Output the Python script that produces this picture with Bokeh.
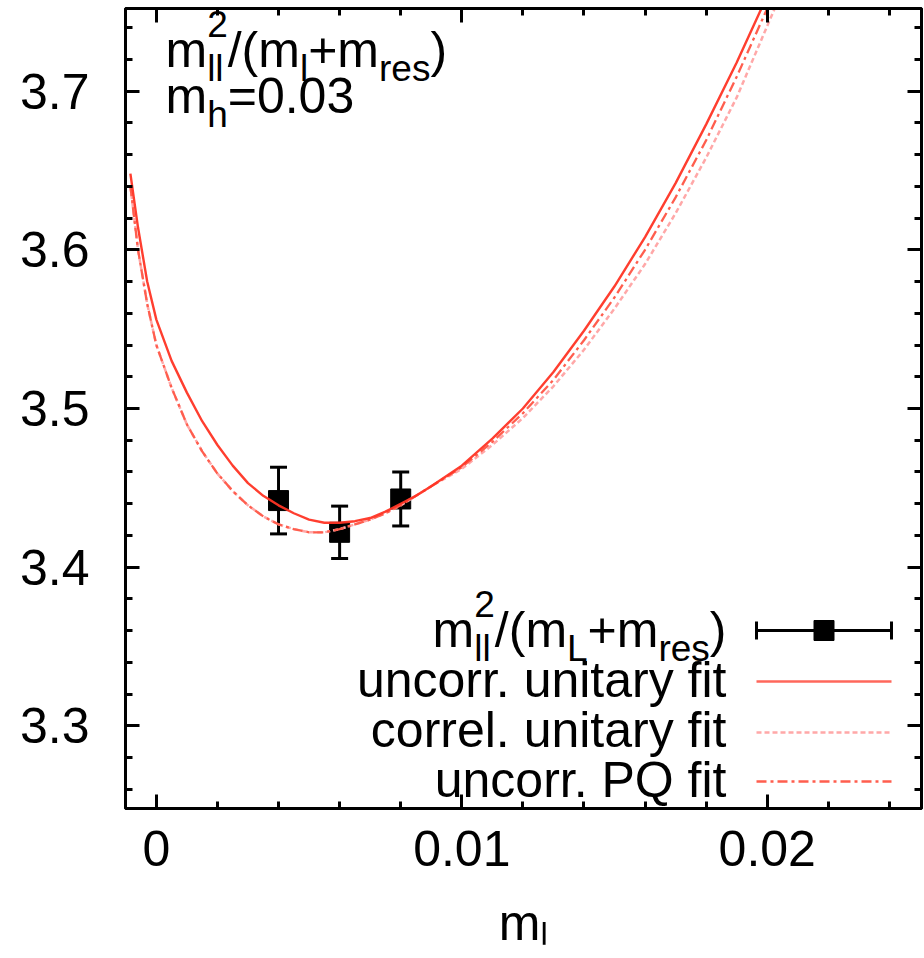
from bokeh.plotting import figure
from bokeh.models import (Range1d, LinearAxis, SingleIntervalTicker, CustomJSTickFormatter,
                          Label, Whisker, ColumnDataSource, TeeHead)
from bokeh.embed import file_html
from bokeh.resources import INLINE

# ---------------- data ----------------
ml_points = [0.004, 0.006, 0.008]
ratio_points = [3.442, 3.422, 3.443]
ratio_errors = [0.021, 0.0165, 0.017]

fit_ml = [-0.00085, -0.0006, -0.0003, 0.0, 0.0005, 0.001, 0.0015, 0.002, 0.0025, 0.003,
          0.0035, 0.004, 0.0045, 0.005, 0.0055, 0.006, 0.0065, 0.007, 0.0075, 0.008,
          0.0085, 0.009, 0.010, 0.011, 0.012, 0.013, 0.014, 0.015, 0.016, 0.017,
          0.018, 0.019, 0.020, 0.021]
fit_uncorr_unitary = [3.648, 3.614, 3.580, 3.556, 3.530, 3.510, 3.492, 3.477, 3.464, 3.453,
                      3.445, 3.439, 3.434, 3.430, 3.428, 3.428, 3.429, 3.431, 3.435, 3.440,
                      3.445, 3.451, 3.464, 3.481, 3.500, 3.523, 3.549, 3.577, 3.608, 3.642,
                      3.679, 3.718, 3.760, 3.805]
fit_correl_unitary = [3.640, 3.600, 3.566, 3.540, 3.513, 3.490, 3.473, 3.459, 3.448, 3.439,
                      3.432, 3.427, 3.424, 3.422, 3.422, 3.424, 3.427, 3.430, 3.434, 3.439,
                      3.445, 3.451, 3.462, 3.477, 3.494, 3.514, 3.537, 3.563, 3.591, 3.623,
                      3.658, 3.696, 3.741, 3.786]
fit_uncorr_pq = [3.640, 3.600, 3.566, 3.540, 3.513, 3.490, 3.473, 3.459, 3.448, 3.439,
                 3.432, 3.427, 3.424, 3.422, 3.422, 3.424, 3.427, 3.430, 3.434, 3.439,
                 3.445, 3.451, 3.463, 3.479, 3.497, 3.518, 3.543, 3.570, 3.600, 3.633,
                 3.669, 3.709, 3.752, 3.797]

legend_texts = ["uncorr. unitary fit", "correl. unitary fit", "uncorr. PQ fit"]
heavy_value = "0.03"
x_axis_title = "m\u2097"

X_RANGE = (-0.00101, 0.02505)
Y_RANGE = (3.248, 3.752)

# ---------------- layout ----------------
W, H = 924, 958
FL, FR, FT, FB = 125, 921, 8, 808
FONT = "Liberation Sans"
FS, SFS = 50, 37
BASE_FIX = 0.35  # empirical baseline correction (fraction of font size)

SOLID_C = "#ff3424"
CORREL_C = "#ffa8a8"
PQ_C = "#ff5e4e"

p = figure(width=W, height=H, x_range=Range1d(*X_RANGE), y_range=Range1d(*Y_RANGE),
           output_backend="svg", toolbar_location=None,
           min_border_left=FL, min_border_right=W - FR, min_border_top=FT,
           min_border_bottom=H - FB, background_fill_color="white",
           border_fill_color="white")
p.grid.visible = False
p.outline_line_color = "black"
p.outline_line_width = 3

xfmt = CustomJSTickFormatter(code="return tick.toFixed(3).replace(/\\.?0+$/, '')")
yfmt = CustomJSTickFormatter(code="return tick.toFixed(1)")
blank = CustomJSTickFormatter(code="return ''")


def style_axis(ax, show_labels, standoff):
    ax.axis_line_width = 3
    ax.axis_line_color = "black"
    ax.major_tick_in = 14
    ax.major_tick_out = 0
    ax.minor_tick_in = 7
    ax.minor_tick_out = 0
    ax.major_tick_line_width = 3
    ax.minor_tick_line_width = 3
    ax.major_tick_line_color = "black"
    ax.minor_tick_line_color = "black"
    if show_labels:
        ax.major_label_text_font = FONT
        ax.major_label_text_font_size = f"{FS}px"
        ax.major_label_text_color = "black"
        ax.major_label_standoff = standoff
    else:
        ax.major_label_text_font_size = "1px"
        ax.major_label_standoff = 0


p.xaxis.ticker = SingleIntervalTicker(interval=0.01, num_minor_ticks=5)
p.xaxis.formatter = xfmt
p.yaxis.ticker = SingleIntervalTicker(interval=0.1, num_minor_ticks=5)
p.yaxis.formatter = yfmt
style_axis(p.xaxis[0], True, 22)
style_axis(p.yaxis[0], True, 36)
p.yaxis.axis_label = None
p.xaxis.axis_label = x_axis_title
p.xaxis.axis_label_text_font = FONT
p.xaxis.axis_label_text_font_size = f"{FS}px"
p.xaxis.axis_label_text_font_style = "normal"
p.xaxis.axis_label_text_color = "black"
p.xaxis.axis_label_standoff = 26

top_ax = LinearAxis(ticker=SingleIntervalTicker(interval=0.01, num_minor_ticks=5), formatter=blank,
                    axis_label=None)
right_ax = LinearAxis(ticker=SingleIntervalTicker(interval=0.1, num_minor_ticks=5), formatter=blank,
                      axis_label=None)
style_axis(top_ax, False, 0)
style_axis(right_ax, False, 0)
p.add_layout(top_ax, "above")
p.add_layout(right_ax, "right")


# ---------------- pixel -> data helpers (for texts / key) ----------------
def fx(px):
    return X_RANGE[0] + (px - FL) / (FR - FL) * (X_RANGE[1] - X_RANGE[0])


def fy(py):
    return Y_RANGE[1] - (py - FT) / (FB - FT) * (Y_RANGE[1] - Y_RANGE[0])


# ---------------- data marks ----------------
src = ColumnDataSource(dict(
    x=ml_points, y=ratio_points,
    upper=[v + e for v, e in zip(ratio_points, ratio_errors)],
    lower=[v - e for v, e in zip(ratio_points, ratio_errors)],
))
p.add_layout(Whisker(base="x", upper="upper", lower="lower", source=src, dimension="height",
                     line_width=3, line_color="black",
                     upper_head=TeeHead(size=17, line_width=3, line_color="black"),
                     lower_head=TeeHead(size=17, line_width=3, line_color="black")))
p.scatter("x", "y", source=src, marker="square", size=20, color="black")

p.line(fit_ml, fit_correl_unitary, line_color=CORREL_C, line_width=2.5, line_dash="5 3")
p.line(fit_ml, fit_uncorr_pq, line_color=PQ_C, line_width=2.3, line_dash="10 4 3 4")
p.line(fit_ml, fit_uncorr_unitary, line_color=SOLID_C, line_width=2.4, line_alpha=0.95)

# ---------------- rich text helper ----------------
MET = {'m': 0.833, 'l': 0.222, 'L': 0.556, '2': 0.556, '/': 0.278, '(': 0.333, ')': 0.333,
       '+': 0.584, 'r': 0.333, 'e': 0.556, 's': 0.5, 'h': 0.556, '=': 0.584, '0': 0.556,
       '.': 0.278, '3': 0.556}


def tw(s, size):
    return sum(MET.get(c, 0.556) for c in s) * size


def run_width(run):
    kind, txt = run
    if kind == "n":
        return tw(txt, FS)
    if kind in ("b", "p"):
        return tw(txt, SFS)
    return max(tw(txt[0], SFS), tw(txt[1], SFS))


def put(px, py, txt, size, align="left"):
    p.add_layout(Label(x=fx(px), y=fy(py - BASE_FIX * size), text=txt, text_font=FONT,
                       text_font_size=f"{size}px", text_color="black",
                       text_baseline="alphabetic", text_align=align))


def rich(px, py, runs, align="left"):
    total = sum(run_width(r) for r in runs)
    x = px - total if align == "right" else px
    for kind, txt in runs:
        if kind == "n":
            put(x, py, txt, FS)
        elif kind == "b":
            put(x, py + 14, txt, SFS)
        elif kind == "p":
            put(x, py - 31, txt, SFS)
        else:
            put(x, py + 14, txt[0], SFS)
            put(x, py - 31, txt[1], SFS)
        x += run_width((kind, txt))


# title block (top-left)
rich(165, 67, [("n", "m"), ("bp", ("ll", "2")), ("n", "/(m"), ("b", "l"), ("n", "+m"),
               ("b", "res"), ("n", ")")])
rich(165, 113, [("n", "m"), ("b", "h"), ("n", "=" + heavy_value)])

# ---------------- key ----------------
KEY_R = 726
KX0, KX1 = 756, 891
rich(KEY_R, 647, [("n", "m"), ("bp", ("ll", "2")), ("n", "/(m"), ("b", "L"), ("n", "+m"),
                  ("b", "res"), ("n", ")")], align="right")
for i, t in enumerate(legend_texts):
    put(KEY_R, 697 + 50 * i, t, FS, align="right")

# key samples
ky = [630, 681, 732, 781]
p.segment(x0=[fx(KX0)], y0=[fy(ky[0])], x1=[fx(KX1)], y1=[fy(ky[0])], line_color="black", line_width=3)
p.segment(x0=[fx(KX0), fx(KX1)], y0=[fy(ky[0] - 9)] * 2, x1=[fx(KX0), fx(KX1)], y1=[fy(ky[0] + 9)] * 2,
          line_color="black", line_width=3)
p.scatter(x=[fx((KX0 + KX1) / 2)], y=[fy(ky[0])], marker="square", size=20, color="black")
p.line([fx(KX0), fx(KX1)], [fy(ky[1])] * 2, line_color=SOLID_C, line_width=2.5, line_alpha=0.75)
p.line([fx(KX0), fx(KX1)], [fy(ky[2])] * 2, line_color=CORREL_C, line_width=2.5, line_dash="5 3")
p.line([fx(KX0), fx(KX1)], [fy(ky[3])] * 2, line_color=PQ_C, line_width=2.3, line_dash="10 4 3 4")

open("out.html", "w").write(file_html(p, INLINE))
